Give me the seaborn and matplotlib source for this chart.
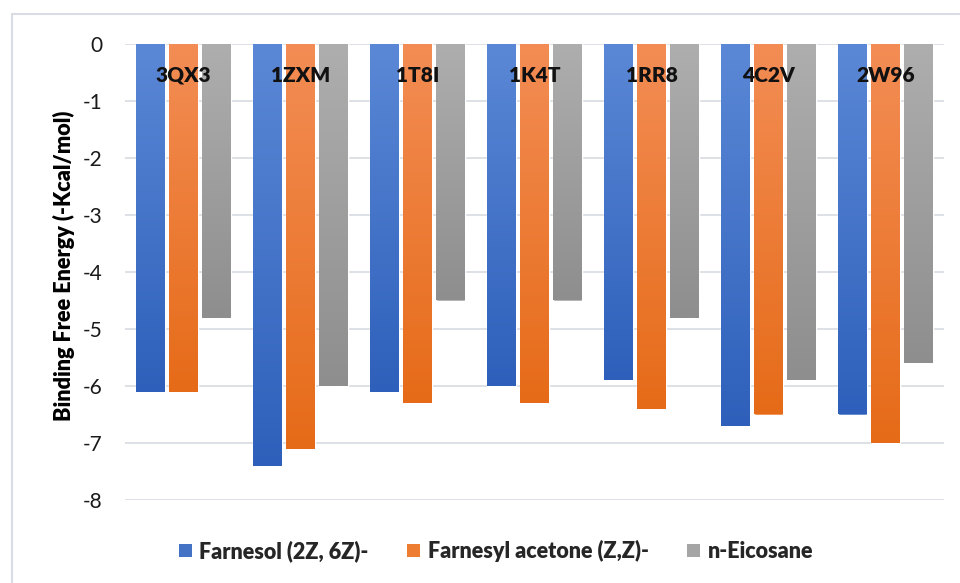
import numpy as np
import pandas as pd
import matplotlib
matplotlib.use("Agg")
import matplotlib.pyplot as plt
import seaborn as sns
from matplotlib.patches import Patch
from matplotlib.lines import Line2D
from matplotlib.colors import LinearSegmentedColormap, to_hex

# Docking targets and binding free energies (kcal/mol) per ligand
targets = ["3QX3", "1ZXM", "1T8I", "1K4T", "1RR8", "4C2V", "2W96"]
farnesol = [-6.1, -7.4, -6.1, -6.0, -5.9, -6.7, -6.5]
farnesyl_acetone = [-6.1, -7.1, -6.3, -6.3, -6.4, -6.5, -7.0]
eicosane = [-4.8, -6.0, -4.5, -4.5, -4.8, -5.9, -5.6]
ligands = ["Farnesol (2Z, 6Z)-", "Farnesyl acetone (Z,Z)-", "n-Eicosane"]
y_ticks = [0, -1, -2, -3, -4, -5, -6, -7, -8]

# Light (top) and dark (bottom) ends of each series' gradient fill
grad_top = ["#5B88D6", "#F38D55", "#AEAEAE"]
grad_bottom = ["#2E60BB", "#E66B18", "#8E8E8E"]
mid_colors = ["#4472C4", "#ED7D31", "#A5A5A5"]

df = pd.DataFrame({
    "target": targets * 3,
    "ligand": [ligands[0]] * 7 + [ligands[1]] * 7 + [ligands[2]] * 7,
    "energy": farnesol + farnesyl_acetone + eicosane,
})

sns.set_theme(style="white")
plt.rcParams["font.family"] = ["Lato", "DejaVu Sans"]

fig = plt.figure(figsize=(9.6, 5.83), dpi=100)
ax = fig.add_axes([125 / 960, 1 - 500 / 583, 819 / 960, 456 / 583])

sns.barplot(data=df, x="target", y="energy", hue="ligand", order=targets,
            hue_order=ligands, palette=mid_colors, saturation=1,
            width=0.846, gap=0.15, errorbar=None, legend=False, ax=ax)

# Replace flat fills with vertical gradients clipped to each bar
color_key = {to_hex(c): i for i, c in enumerate(mid_colors)}
grad = np.linspace(1, 0, 256)[:, None]
for patch in list(ax.patches):
    idx = color_key.get(to_hex(patch.get_facecolor()))
    if idx is None:
        continue
    x0 = patch.get_x()
    w = patch.get_width()
    y_a = patch.get_y()
    y_b = y_a + patch.get_height()
    cmap = LinearSegmentedColormap.from_list(
        f"g{idx}", [grad_top[idx], grad_bottom[idx]])
    im = ax.imshow(grad, cmap=cmap, vmin=0, vmax=1, aspect="auto",
                   origin="lower", interpolation="bilinear",
                   extent=(x0, x0 + w, min(y_a, y_b), max(y_a, y_b)),
                   zorder=patch.get_zorder() + 0.1)
    im.set_clip_path(patch)

ax.set_xlim(-0.5, len(targets) - 0.5)
ax.set_ylim(-8, 0)
ax.set_yticks(y_ticks)
ax.set_yticklabels([str(v) for v in y_ticks], fontsize=15, color="#1a1a1a")
ax.tick_params(axis="y", length=0, pad=16)
ax.set_xticks([])
ax.set_xlabel("")
ax.set_ylabel("")
ax.yaxis.grid(True, color="#DDE1E6", linewidth=1.4)
ax.set_axisbelow(True)
for s in ax.spines.values():
    s.set_visible(False)

# Axis title, centred on its own box
fig.text(64 / 960, 1 - 266 / 583, "Binding Free Energy (-Kcal/mol)",
         rotation=90, ha="center", va="center", fontsize=15.6,
         fontweight="heavy", color="black")

# Target names inside the plot, just below the zero line
for i, name in enumerate(targets):
    ax.text(i, -0.55, name, ha="center", va="center", fontsize=15,
            fontweight="heavy", color="#111111", zorder=10)

handles = [Patch(facecolor=c, edgecolor="none") for c in mid_colors]
fig.legend(handles, ligands, loc="center", bbox_to_anchor=(496 / 960, 1 - 551 / 583),
           ncol=3, frameon=False, prop=dict(weight="heavy", size=15.5),
           handlelength=0.6, handleheight=0.6, handletextpad=0.35,
           columnspacing=1.8)

# Chart-area outline
border = "#D9DDE3"
fig.add_artist(Line2D([12 / 960, 12 / 960], [-0.01, 1 - 14 / 583],
                      transform=fig.transFigure, color=border, lw=1.5))
fig.add_artist(Line2D([12 / 960, 1.01], [1 - 14 / 583, 1 - 14 / 583],
                      transform=fig.transFigure, color=border, lw=1.5))

fig.savefig("out.png", dpi=100)
